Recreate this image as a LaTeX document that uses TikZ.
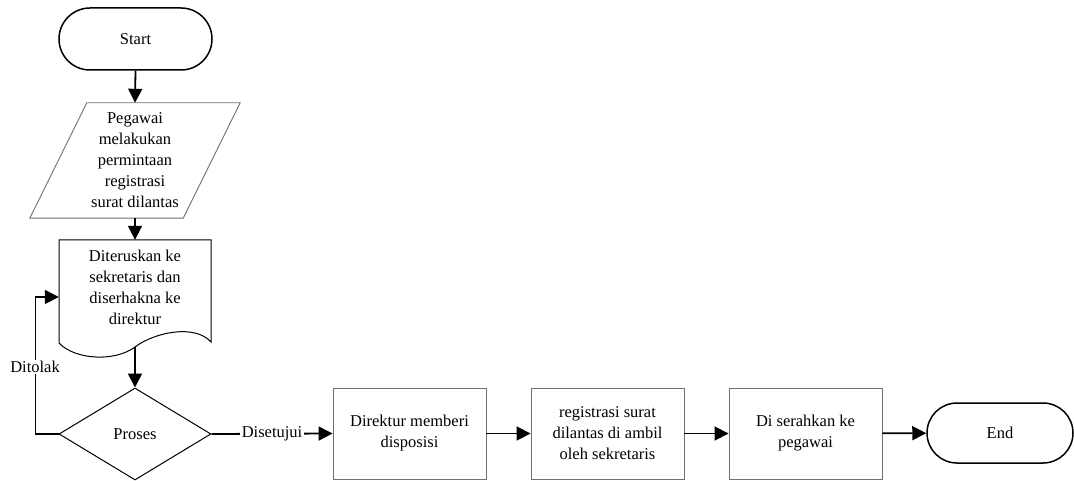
\documentclass[tikz,border=0pt]{standalone}
\usepackage{fontspec}
\setmainfont{Liberation Serif}
\usetikzlibrary{arrows.meta,shapes.geometric,shapes.misc}
\definecolor{edgegray}{HTML}{707070}
\begin{document}
\begin{tikzpicture}[x=1pt,y=-1pt,
  every node/.style={font=\fontsize{16.5}{21}\selectfont, align=center, inner sep=0pt},
  term/.style={rounded rectangle, draw=black, line width=1.5pt, fill=white},
  procbox/.style={rectangle, draw=edgegray, line width=0.9pt, fill=white, minimum width=153pt, minimum height=91pt},
  thinbox/.style={draw=edgegray, line width=0.9pt},
  docline/.style={draw=black, line width=1pt},
  arr/.style={line width=1.8pt, -{Triangle[length=14pt,width=14pt]}},
  lab/.style={fill=white, inner sep=1.5pt}]
\useasboundingbox (0,0) rectangle (1074,481);

% Start
\node[term, minimum width=153pt, minimum height=62pt] (start) at (135.5,39) {Start};

% Input parallelogram
\node[minimum width=210pt, minimum height=115pt] (para) at (135,160.5)
  {Pegawai\\melakukan\\permintaan\\registrasi\\surat dilantas};
\draw[thinbox] ([xshift=57pt]para.north west) -- (para.north east)
  -- ([xshift=-57pt]para.south east) -- (para.south west) -- cycle;

% Document
\node[minimum width=152pt, minimum height=94pt] (doc) at (135,287)
  {Diteruskan ke\\sekretaris dan\\diserhakna ke\\direktur};
\draw[docline] (59,343) -- (59,240) -- (211,240) -- (211,342)
  .. controls (195,324) and (155,332) .. (135,347)
  .. controls (115,362) and (75,360) .. (59,343) -- cycle;
\coordinate (docb) at (135,347);

% Decision
\node[diamond, draw=black, line width=1pt, minimum width=152pt, minimum height=92pt] (dia) at (135,434) {Proses};

% Processes
\node[procbox] (r1) at (409.5,433.5) {Direktur memberi\\disposisi};
\node[procbox] (r2) at (607.5,433.5) {registrasi surat\\dilantas di ambil\\oleh sekretaris};
\node[procbox] (r3) at (805.5,433.5) {Di serahkan ke\\pegawai};

% End
\node[term, minimum width=146pt, minimum height=60pt] (end) at (1000,433) {End};

% Connectors
\draw[arr] (start.south) -- (para.north);
\draw[arr] (para.south) -- (doc.north);
\draw[arr] (docb) -- (dia.north);
\draw[arr] (dia.east) -- node[lab] (disetujui) {Disetujui} (r1.west);
\draw[arr] (r1) -- (r2);
\draw[arr] (r2) -- (r3);
\draw[arr] (r3) -- (end);
\draw[arr] (dia.west) -- ++(-23,0) |- ([yshift=-10pt]doc.west);
\node[lab] (ditolak) at (35,367) {Ditolak};
\end{tikzpicture}
\end{document}
